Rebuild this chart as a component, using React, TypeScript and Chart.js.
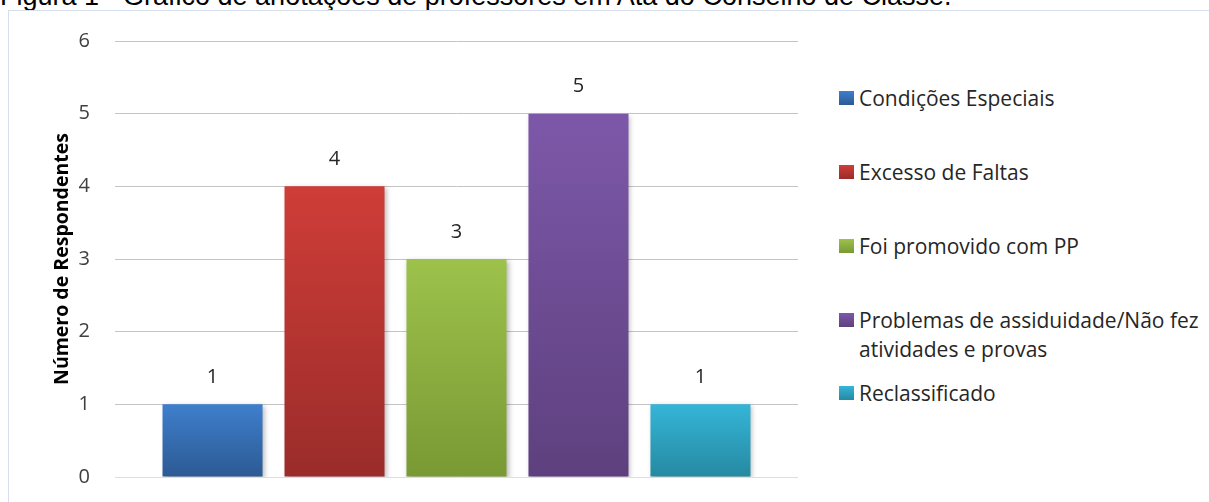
import React, { useEffect, useRef } from "react";
import { Chart, registerables } from "chart.js";

Chart.register(...registerables);

const titleText = "Figura 1 - Gráfico de anotações de professores em Ata do Conselho de Classe.";
const categories = [
  "Condições Especiais",
  "Excesso de Faltas",
  "Foi promovido com PP",
  "Problemas de assiduidade/Não fez atividades e provas",
  "Reclassificado",
];
const legendLines = [
  ["Condições Especiais"],
  ["Excesso de Faltas"],
  ["Foi promovido com PP"],
  ["Problemas de assiduidade/Não fez", "atividades e provas"],
  ["Reclassificado"],
];
const values = [1, 4, 3, 5, 1];
const topColors = ["#3E7FCD", "#CF3D38", "#9DC24B", "#7D58A9", "#35B5D8"];
const bottomColors = ["#2C5A93", "#9A2C2A", "#799934", "#5E407E", "#2689A1"];
const yAxisTitle = "Número de Respondentes";
const yMin = 0;
const yMax = 6;

const FONT = "'Open Sans', Lato, sans-serif";

const shadowPlugin = {
  id: "barShadow",
  beforeDatasetsDraw(chart: any) {
    const ctx = chart.ctx;
    ctx.save();
    ctx.shadowColor = "rgba(0,0,0,0.28)";
    ctx.shadowBlur = 5;
    ctx.shadowOffsetX = 2;
    ctx.shadowOffsetY = 2;
  },
  afterDatasetsDraw(chart: any) {
    chart.ctx.restore();
  },
};

const labelPlugin = {
  id: "valueLabels",
  afterDatasetsDraw(chart: any) {
    const ctx = chart.ctx;
    ctx.save();
    ctx.font = `20px ${FONT}`;
    ctx.fillStyle = "#262626";
    ctx.textAlign = "center";
    ctx.textBaseline = "middle";
    chart.data.datasets.forEach((ds: any, i: number) => {
      const meta = chart.getDatasetMeta(i);
      const el = meta.data[0];
      if (!el) return;
      ctx.fillText(String(ds.data[0]), el.x, el.y - 27);
    });
    ctx.restore();
  },
};

export default function App() {
  const canvasRef = useRef<HTMLCanvasElement | null>(null);

  useEffect(() => {
    if (!canvasRef.current) return;
    const chart = new Chart(canvasRef.current, {
      type: "bar",
      data: {
        labels: [""],
        datasets: categories.map((c, i) => ({
          label: c,
          data: [values[i]],
          backgroundColor: (context: any) => {
            const ch = context.chart;
            const ys = ch.scales && ch.scales.y;
            if (!ys || !ch.chartArea) return topColors[i];
            const y0 = ys.getPixelForValue(values[i]);
            const y1 = ys.getPixelForValue(0);
            const g = ch.ctx.createLinearGradient(0, y0, 0, y1);
            g.addColorStop(0, topColors[i]);
            g.addColorStop(1, bottomColors[i]);
            return g;
          },
          borderWidth: 0,
          categoryPercentage: 0.893,
          barPercentage: 0.82,
        })),
      },
      options: {
        responsive: false,
        maintainAspectRatio: false,
        animation: false,
        layout: { padding: { top: 41, bottom: 25, left: 0, right: 22 } },
        plugins: {
          legend: { display: false },
          tooltip: { enabled: false },
          title: { display: false },
        },
        scales: {
          x: { display: false },
          y: {
            min: yMin,
            max: yMax,
            border: { display: false },
            afterFit: (scale: any) => {
              scale.width = 115;
            },
            grid: {
              drawTicks: true,
              tickLength: 25,
              tickColor: "rgba(0,0,0,0)",
              lineWidth: 1,
              color: (ctx: any) => (ctx.tick && ctx.tick.value === 0 ? "#D5DFEE" : "#C4C4C4"),
            },
            ticks: {
              stepSize: 1,
              padding: 0,
              color: "#404040",
              font: { family: FONT, size: 20 },
            },
            title: {
              display: true,
              text: yAxisTitle,
              color: "#000000",
              font: { family: FONT, size: 19.5, weight: "bold" },
              padding: { top: 51, bottom: 0 },
            },
          },
        },
      } as any,
      plugins: [shadowPlugin, labelPlugin],
    });
    return () => chart.destroy();
  }, []);

  const legendY = [98, 172, 246, 320, 393];

  return (
    <div
      style={{
        position: "fixed",
        left: 0,
        top: 0,
        width: 1209,
        height: 502,
        background: "#ffffff",
        overflow: "hidden",
      }}
    >
      <div
        style={{
          position: "absolute",
          left: 0,
          top: -17,
          fontFamily: "'Liberation Sans', Arial, sans-serif",
          fontSize: 27,
          lineHeight: "27px",
          color: "#000",
          whiteSpace: "nowrap",
        }}
      >
        {titleText}
      </div>
      <div
        style={{
          position: "absolute",
          left: 8,
          top: 10,
          width: 1209,
          height: 600,
          borderLeft: "1.5px solid #D5DFEE",
          borderTop: "1.5px solid #D5DFEE",
        }}
      />
      <canvas
        ref={canvasRef}
        width={820}
        height={502}
        style={{ position: "absolute", left: 0, top: 0, width: 820, height: 502 }}
      />
      {legendLines.map((lines, i) => (
        <div
          key={i}
          style={{
            position: "absolute",
            left: 839,
            top: legendY[i] - 14.5,
            fontFamily: FONT,
            fontSize: 21,
            lineHeight: "29px",
            color: "#262626",
            whiteSpace: "nowrap",
          }}
        >
          <div
            style={{
              position: "absolute",
              left: 0,
              top: 7.5,
              width: 15,
              height: 14,
              background: `linear-gradient(${topColors[i]}, ${bottomColors[i]})`,
            }}
          />
          <div style={{ marginLeft: 20 }}>
            {lines.map((l, j) => (
              <div key={j}>{l}</div>
            ))}
          </div>
        </div>
      ))}
    </div>
  );
}
